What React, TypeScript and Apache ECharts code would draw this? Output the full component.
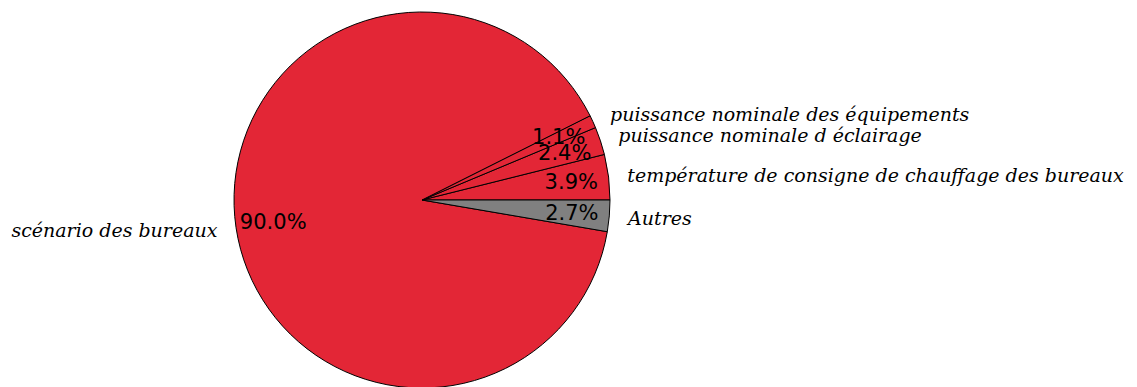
import React, { useEffect, useRef } from "react";
import * as echarts from "echarts";

const categories = [
  "température de consigne de chauffage des bureaux",
  "puissance nominale d éclairage",
  "puissance nominale des équipements",
  "scénario des bureaux",
  "Autres",
];
const values = [3.9, 2.4, 1.1, 90.0, 2.7];
const colors = ["#E32636", "#E32636", "#E32636", "#E32636", "#808080"];

export default function App() {
  const ref = useRef<HTMLDivElement>(null);
  useEffect(() => {
    if (!ref.current) return;
    const chart = echarts.init(ref.current, undefined, { renderer: "svg" });
    const R = 188;
    const center = [422, 200];
    const total = values.reduce((a, b) => a + b, 0);
    const data = categories.map((name, i) => ({
      name,
      value: values[i],
      itemStyle: { color: colors[i] },
    }));
    chart.setOption({
      animation: false,
      backgroundColor: "#ffffff",
      series: [
        {
          type: "pie",
          z: 1,
          center,
          radius: [0, R],
          startAngle: 0,
          clockwise: false,
          avoidLabelOverlap: false,
          silent: true,
          itemStyle: { borderColor: "#000", borderWidth: 1 },
          label: {
            show: true,
            position: "outside",
            formatter: "{b}",
            fontFamily: "DejaVu Serif",
            fontStyle: "italic",
            fontSize: 19,
            color: "#000",
            distanceToLabelLine: 0,
          },
          labelLine: { show: false, length: R * 0.1, length2: 0 },
          data,
        },
        {
          type: "custom",
          coordinateSystem: "none",
          z: 10,
          silent: true,
          data: values.map((v, i) => [v, i]),
          renderItem: (params: any, api: any) => {
            const idx = params.dataIndex;
            let before = 0;
            for (let k = 0; k < idx; k++) before += values[k];
            const v = api.value(0);
            const mid = ((before + v / 2) / total) * Math.PI * 2;
            const x = center[0] + 0.8 * R * Math.cos(mid);
            const y = center[1] - 0.8 * R * Math.sin(mid);
            return {
              type: "text",
              x,
              y,
              z2: 100,
              style: {
                text: v.toFixed(1) + "%",
                align: "center",
                verticalAlign: "middle",
                fontFamily: "DejaVu Sans",
                fontSize: 21,
                fill: "#000",
              },
            };
          },
        },
      ],
    });
    return () => chart.dispose();
  }, []);
  return (
    <div
      ref={ref}
      style={{ position: "absolute", left: 0, top: 0, width: 1137, height: 387 }}
    />
  );
}
